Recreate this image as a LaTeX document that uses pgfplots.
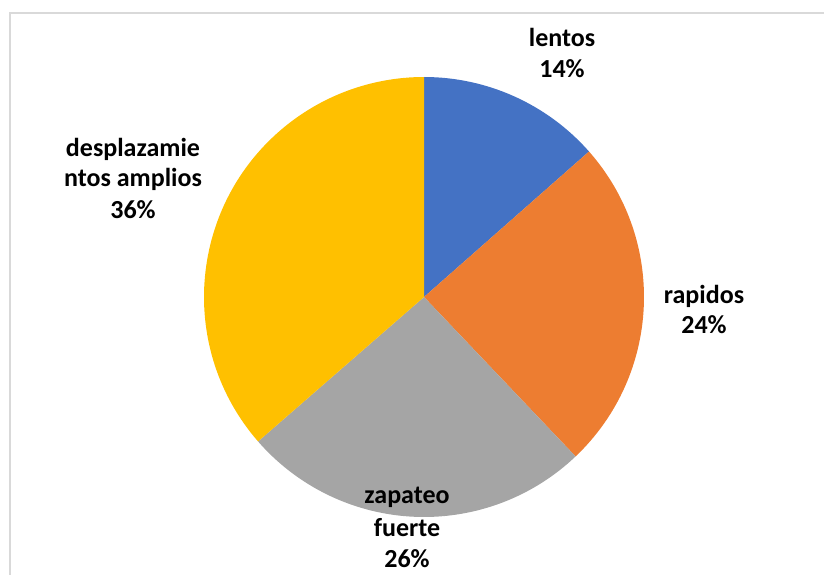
\documentclass[border=0pt]{standalone}
\usepackage{fontspec}
\setmainfont{Carlito}
\usepackage{pgfplots}
\pgfplotsset{compat=1.18}

\definecolor{cBlue}{HTML}{4472C4}
\definecolor{cOrange}{HTML}{ED7D31}
\definecolor{cGray}{HTML}{A5A5A5}
\definecolor{cGold}{HTML}{FFC000}
\definecolor{cFrame}{HTML}{D9D9D9}

% shares in percent, clockwise from 12 o'clock
\def\vLentos{13.5}
\def\vRapidos{24.4}
\def\vZapateo{25.7}
\def\vDespl{36.4}

\tikzset{lbl/.style={font=\fontsize{26}{31}\selectfont\bfseries, anchor=base, inner sep=0pt}}

\begin{document}
\begin{tikzpicture}
\path[use as bounding box] (0,0) rectangle (824pt,574pt);
% chart frame (right and bottom edges fall outside the picture)
\draw[cFrame, line width=1.5pt] (10pt,-2pt) -- (10pt,561pt) -- (826pt,561pt);
\pgfmathsetmacro{\aA}{90}
\pgfmathsetmacro{\aB}{\aA-3.6*\vLentos}
\pgfmathsetmacro{\aC}{\aB-3.6*\vRapidos}
\pgfmathsetmacro{\aD}{\aC-3.6*\vZapateo}
\pgfmathsetmacro{\aE}{\aD-3.6*\vDespl}
\begin{axis}[
    at={(0,0)}, anchor=south west,
    scale only axis, width=824pt, height=574pt,
    xmin=0, xmax=824, ymin=0, ymax=574,
    hide axis, clip=false,
]
\fill[cBlue]   (axis cs:424,277) -- ++(\aA:220pt) arc[start angle=\aA, end angle=\aB, radius=220pt] -- cycle;
\fill[cOrange] (axis cs:424,277) -- ++(\aB:220pt) arc[start angle=\aB, end angle=\aC, radius=220pt] -- cycle;
\fill[cGray]   (axis cs:424,277) -- ++(\aC:220pt) arc[start angle=\aC, end angle=\aD, radius=220pt] -- cycle;
\fill[cGold]   (axis cs:424,277) -- ++(\aD:220pt) arc[start angle=\aD, end angle=\aE, radius=220pt] -- cycle;

\node[lbl] at (axis cs:562,527) {lentos};
\node[lbl] at (axis cs:562,496) {14\%};

\node[lbl] at (axis cs:704,271) {rapidos};
\node[lbl] at (axis cs:704,241) {24\%};

\node[lbl] at (axis cs:407,71) {zapateo};
\node[lbl] at (axis cs:407,38) {fuerte};
\node[lbl] at (axis cs:407,7) {26\%};

\node[lbl] at (axis cs:133,417) {desplazamie};
\node[lbl] at (axis cs:133,387) {ntos amplios};
\node[lbl] at (axis cs:133,355) {36\%};
\end{axis}
\end{tikzpicture}
\end{document}
